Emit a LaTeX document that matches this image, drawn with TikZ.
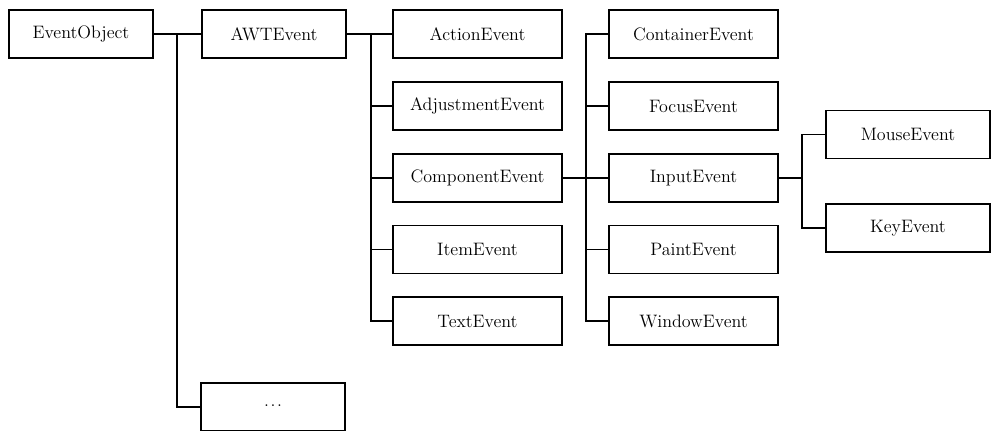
\documentclass[tikz,border=0pt]{standalone}
\usepackage{tikz}
\begin{document}
\begin{tikzpicture}[x=0.75pt,y=-0.75pt,
  box/.style={draw,line width=0.9pt,minimum height=48*0.75pt,inner sep=0pt,font=\fontsize{13.5}{15}\selectfont},
  wA/.style={minimum width=144*0.75pt},
  wB/.style={minimum width=169*0.75pt},
  wC/.style={minimum width=164*0.75pt},
  link/.style={line width=0.8pt}]
\useasboundingbox[fill=white] (0,0) rectangle (992,430);
% nodes
\node[box,wA] (eo) at (81,34) {EventObject};
\node[box,wA] (awt) at (274,34) {AWTEvent};
\node[box,wA] (dots) at (273,407) {\raisebox{0.35ex}{.\hspace{1.2pt}.\hspace{1.2pt}.}};
\node[box,wB] (action) at (477.5,34) {ActionEvent};
\node[box,wB] (adj) at (477.5,106) {AdjustmentEvent};
\node[box,wB] (comp) at (477.5,178) {ComponentEvent};
\node[box,wB] (item) at (477.5,249.5) {ItemEvent};
\node[box,wB] (text) at (477.5,321) {TextEvent};
\node[box,wB] (cont) at (693.5,34) {ContainerEvent};
\node[box,wB] (focus) at (693.5,106) {FocusEvent};
\node[box,wB] (input) at (693.5,178) {InputEvent};
\node[box,wB] (paint) at (693.5,249.5) {PaintEvent};
\node[box,wB] (window) at (693.5,321) {WindowEvent};
\node[box,wC] (mouse) at (908,134.5) {MouseEvent};
\node[box,wC] (key) at (908,228) {KeyEvent};
% junctions
\coordinate (j1) at (177,34);
\coordinate (j2) at (371,34);
\coordinate (j3) at (586,178);
\coordinate (j4) at (802,178);
% connectors
\draw[link] (eo.east) -- (awt.west);
\draw[link] (j1) |- (dots.west);
\draw[link] (awt.east) -- (action.west);
\draw[link] (j2) |- (adj.west);
\draw[link] (j2) |- (comp.west);
\draw[link] (j2) |- (item.west);
\draw[link] (j2) |- (text.west);
\draw[link] (comp.east) -- (input.west);
\draw[link] (cont.west) -| (j3) |- (window.west);
\draw[link] (j3) |- (focus.west);
\draw[link] (j3) |- (paint.west);
\draw[link] (input.east) -- (j4);
\draw[link] (mouse.west) -| (j4) |- (key.west);
\end{tikzpicture}
\end{document}
